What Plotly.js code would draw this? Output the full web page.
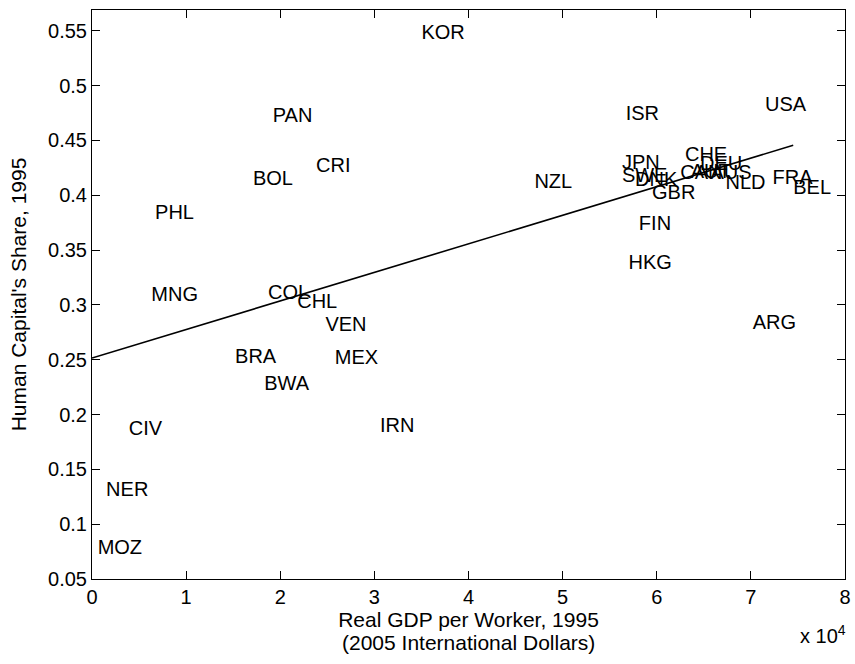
<!DOCTYPE html>
<html>
<head>
<meta charset="utf-8">
<script src="https://cdn.plot.ly/plotly-3.0.1.min.js"></script>
<style>html,body{margin:0;padding:0;background:#fff;}#chart{width:855px;height:664px;}</style>
</head>
<body>
<div id="chart"></div>
<script>
// Country codes
var countries = ["KOR","USA","ISR","PAN","CRI","BOL","PHL","NZL","JPN","SWE","DNK","CHE","DEU","CAN","AUT","AUS","NLD","FRA","BEL","GBR","FIN","HKG","ARG","MNG","COL","CHL","VEN","BRA","MEX","BWA","IRN","CIV","NER","MOZ"];
// Real GDP per worker, 1995 (2005 international dollars)
var gdp = [35000,71500,56700,19200,23800,17100,6700,47000,56300,56300,57700,63000,64600,62500,63600,65700,67300,72300,74500,59500,58100,57000,70200,6300,18700,21800,24800,15200,25800,18300,30600,3900,1500,600];
// Human capital's share, 1995
var hshare = [0.547,0.481,0.473,0.471,0.4255,0.4136,0.3826,0.4109,0.4282,0.417,0.4127,0.4355,0.428,0.419,0.420,0.419,0.410,0.4145,0.4054,0.401,0.3726,0.337,0.2824,0.3079,0.3097,0.3015,0.2805,0.2514,0.2505,0.2268,0.1885,0.1857,0.1301,0.0773];
// Fitted regression line endpoints
var fitX = [0, 74500];
var fitY = [0.2515, 0.4456];

var xTickVals = [0,10000,20000,30000,40000,50000,60000,70000,80000];
var xTickText = ["0","1","2","3","4","5","6","7","8"];
var yTickVals = [0.05,0.1,0.15,0.2,0.25,0.3,0.35,0.4,0.45,0.5,0.55];
var yTickText = ["0.05","0.1","0.15","0.2","0.25","0.3","0.35","0.4","0.45","0.5","0.55"];

var font = "Liberation Sans, Arial, sans-serif";

var traces = [
  {
    x: gdp, y: hshare, text: countries, mode: "text", type: "scatter",
    textposition: "middle right",
    textfont: {family: font, size: 20, color: "#000"},
    cliponaxis: false, hoverinfo: "text", showlegend: false
  },
  {
    x: fitX, y: fitY, mode: "lines", type: "scatter",
    line: {color: "#000", width: 1.6}, showlegend: false
  }
];

var layout = {
  width: 855, height: 664,
  margin: {l: 92, r: 10, t: 10, b: 85},
  paper_bgcolor: "#fff", plot_bgcolor: "#fff",
  font: {family: font, size: 20, color: "#000"},
  showlegend: false,
  xaxis: {
    range: [0, 80000], tickvals: xTickVals, ticktext: xTickText,
    ticks: "inside", ticklen: 8, tickwidth: 1, tickcolor: "#000",
    showline: true, linecolor: "#000", linewidth: 1, mirror: "ticks",
    showgrid: false, zeroline: false,
    tickfont: {family: font, size: 20},
    title: {text: "Real GDP per Worker, 1995", font: {family: font, size: 21}, standoff: 2}
  },
  yaxis: {
    range: [0.05, 0.569], tickvals: yTickVals, ticktext: yTickText,
    ticks: "inside", ticklen: 8, tickwidth: 1, tickcolor: "#000",
    showline: true, linecolor: "#000", linewidth: 1, mirror: "ticks",
    showgrid: false, zeroline: false,
    tickfont: {family: font, size: 20},
    title: {text: "Human Capital's Share, 1995", font: {family: font, size: 21}, standoff: 15}
  },
  annotations: [
    {
      xref: "paper", yref: "paper", x: 0.5, y: 0, xanchor: "center", yanchor: "middle",
      yshift: -63, text: "(2005 International Dollars)", showarrow: false,
      font: {family: font, size: 21, color: "#000"}
    },
    {
      xref: "paper", yref: "paper", x: 1.0, y: 0, xanchor: "right", yanchor: "middle",
      yshift: -55, xshift: 3,
      text: "x 10<sup>4</sup>", showarrow: false,
      font: {family: font, size: 20, color: "#000"}
    }
  ]
};

Plotly.newPlot("chart", traces, layout, {displayModeBar: false, staticPlot: true});
</script>
</body>
</html>
